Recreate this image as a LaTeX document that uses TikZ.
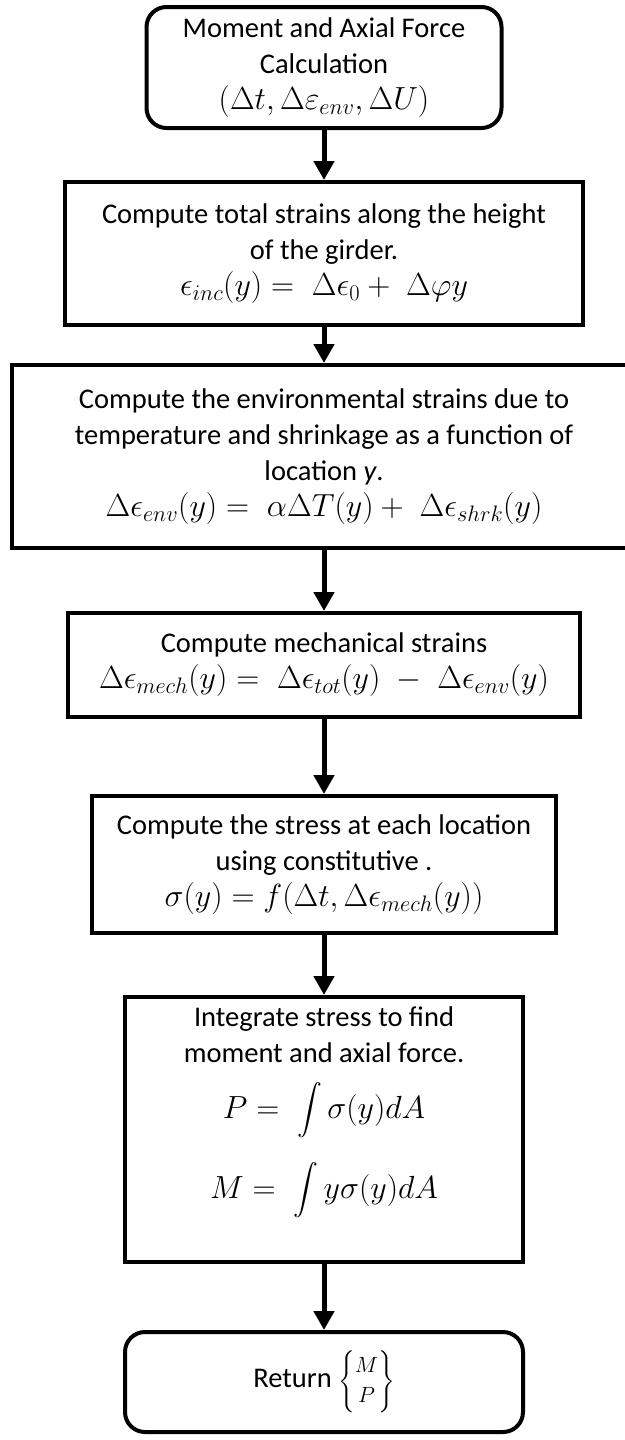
\RequirePackage{fix-cm}
\documentclass[tikz,border=0pt]{standalone}
\usepackage{amsmath}
\usepackage{fontspec}
\setmainfont{Carlito}
\usetikzlibrary{arrows.meta}

% bigger math, as the formulas in the flow chart
\newcommand{\eqn}[1]{{\fontsize{32}{36}\selectfont$#1$}}

\begin{document}
\begin{tikzpicture}[x=1pt, y=-1pt,
	  every node/.style={font=\fontsize{28.5}{36}\selectfont, align=center, inner sep=0pt},
	  stepbox/.style={draw, line width=4pt},
	  endbox/.style={draw, line width=4pt, rounded corners=20pt},
	  flow/.style={line width=5pt, -{Triangle[width=20pt,length=19pt]}}]
	  \useasboundingbox (0,0) rectangle (624,1440);
	  
	  \node[endbox, minimum width=355pt, minimum height=121pt] (1) at (324,67.5) {Moment and Axial Force\\Calculation\\\eqn{(\Delta t,\Delta\varepsilon_{env},\Delta U)}};
	  \node[stepbox, minimum width=518pt, minimum height=143pt] (2) at (324,253.5) {Compute total strains along the height\\of the girder.\\\eqn{\epsilon_{inc}(y)=\;\Delta\epsilon_0+\;\Delta\varphi y}};
	  \node[stepbox, minimum width=624pt, minimum height=183pt] (3) at (324,456.5) {Compute the environmental strains due to\\temperature and shrinkage as a function of\\location \textit{y}.\\\eqn{\Delta\epsilon_{env}(y)=\;\alpha\Delta T(y)+\;\Delta\epsilon_{shrk}(y)}};
	  \node[stepbox, minimum width=512pt, minimum height=104pt] (4) at (324,665) {Compute mechanical strains\\\eqn{\Delta\epsilon_{mech}(y)=\;\Delta\epsilon_{tot}(y)\;-\;\Delta\epsilon_{env}(y)}};
	  \node[stepbox, minimum width=464pt, minimum height=137pt] (5) at (324,864.5) {Compute the stress at each location\\using constitutive .\\\eqn{\sigma(y)=f(\Delta t,\Delta\epsilon_{mech}(y))}};
	  \node[stepbox, minimum width=398pt, minimum height=265pt] (6) at (324,1129.5) {Integrate stress to find\\moment and axial force.\\[20pt]\eqn{\displaystyle P=\;\int\sigma(y)dA}\\[24pt]\eqn{\displaystyle M=\;\int y\sigma(y)dA}\\[18pt]};
	  \node[endbox, minimum width=398pt, minimum height=100pt] (7) at (324,1382) {Return {\fontsize{22}{26}\selectfont$\genfrac\{\}{0pt}{0}{M}{P}$}};
	  
	  \draw[flow] (1) -- (2);
	  \draw[flow] (2) -- (3);
	  \draw[flow] (3) -- (4);
	  \draw[flow] (4) -- (5);
	  \draw[flow] (5) -- (6);
	  \draw[flow] (6) -- (7);
	\end{tikzpicture}
\end{document}
